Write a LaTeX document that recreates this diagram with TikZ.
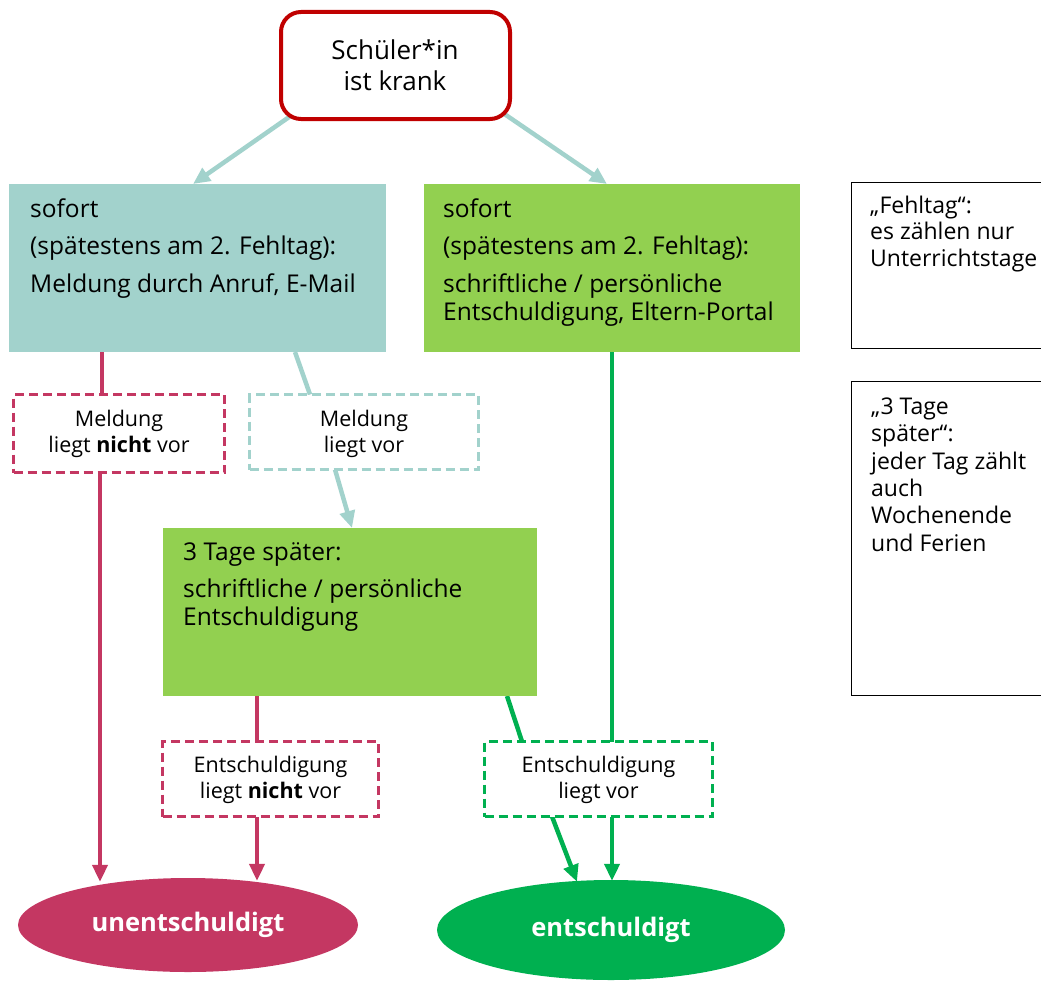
\documentclass[tikz,border=0pt]{standalone}
\usepackage{fontspec}
\setmainfont{Open Sans}
\usetikzlibrary{arrows.meta,shapes.geometric}
\definecolor{tealc}{HTML}{A2D2CC}
\definecolor{lgreen}{HTML}{92D050}
\definecolor{dgreen}{HTML}{00B050}
\definecolor{crim}{HTML}{C43762}
\definecolor{dred}{HTML}{C00000}
\pgfdeclarelayer{bg}
\pgfsetlayers{bg,main}
\newcommand\mystrut[1]{\rule{0pt}{#1}}
\begin{document}
\begin{tikzpicture}[x=1pt,y=-1pt,
  box/.style={rectangle,inner sep=0,outer sep=0},
  dbox/.style={rectangle,draw,line width=3pt,dash pattern=on 9pt off 5pt,fill=white,inner sep=0,outer sep=0},
  nbox/.style={rectangle,draw=black,line width=1pt,inner sep=0,outer sep=0},
  txt/.style={anchor=north west,inner sep=0,align=left},
  ctxt/.style={anchor=north,inner sep=0,align=center},
  mainfont/.style={font=\fontsize{24.5}{28}\selectfont},
  dfont/.style={font=\fontsize{21.5}{26}\selectfont},
  con/.style={line width=4.5pt},
  arr/.style={-{Triangle[length=17pt,width=15pt]}}
]
\useasboundingbox (0,0) rectangle (1041,982);

% boxes
\node[draw=dred,fill=white,line width=4pt,rounded corners=20pt,minimum width=229pt,minimum height=107pt,inner sep=0,outer sep=0] (T) at (395.5,65.5) {};
\node[box,fill=tealc,minimum width=377pt,minimum height=168pt] (L) at (197.5,268) {};
\node[box,fill=lgreen,minimum width=376pt,minimum height=168pt] (M) at (612,268) {};
\node[box,fill=lgreen,minimum width=374pt,minimum height=168pt] (G) at (350,612) {};
\node[nbox,minimum width=192pt,minimum height=166pt] (R1) at (947,265) {};
\node[nbox,minimum width=192pt,minimum height=314pt] (R2) at (947,538) {};
\node[dbox,draw=crim,minimum width=211pt,minimum height=78pt] (D1) at (119,433.5) {};
\node[dbox,draw=tealc,minimum width=229pt,minimum height=75pt] (D2) at (364,432) {};
\node[dbox,draw=crim,minimum width=216pt,minimum height=75pt] (D3) at (270.5,779) {};
\node[dbox,draw=dgreen,minimum width=228pt,minimum height=75pt] (D4) at (598.5,779) {};
\node[ellipse,fill=crim,minimum width=340pt,minimum height=94pt,inner sep=0,text=white,font=\fontsize{25.5}{30}\selectfont\bfseries] (U) at (188,925) {unentschuldigt};
\node[ellipse,fill=dgreen,minimum width=348pt,minimum height=100pt,inner sep=0,text=white,font=\fontsize{25.5}{30}\selectfont\bfseries] (E) at (611,930) {entschuldigt};

% texts
\node[ctxt,font=\fontsize{26}{31.5}\selectfont] (Tt) at (395,38) {\mystrut{21pt}Schüler*in\\ist krank};
\node[txt,mainfont] (Lt) at (30,196) {\mystrut{21pt}sofort\\[9.5pt](spätestens am 2. Fehltag):\\[9.5pt]Meldung durch Anruf, E-Mail};
\node[txt,mainfont] (Mt) at (443,196) {\mystrut{21pt}sofort\\[9.5pt](spätestens am 2. Fehltag):\\[9.5pt]schriftliche / persönliche\\Entschuldigung, Eltern-Portal};
\node[txt,mainfont] (Gt) at (183,539) {\mystrut{21pt}3 Tage später:\\[9.5pt]schriftliche / persönliche\\Entschuldigung};
\node[txt,font=\fontsize{23}{26.5}\selectfont] (R1t) at (870,193) {\mystrut{20pt}„Fehltag“:\\es zählen nur\\Unterrichtstage};
\node[txt,font=\fontsize{23}{27.4}\selectfont] (R2t) at (871,394) {\mystrut{20pt}„3 Tage\\später“:\\jeder Tag zählt\\auch\\Wochenende\\und Ferien};
\node[ctxt,dfont] (D1t) at (119,408) {\mystrut{18pt}Meldung\\liegt \textbf{nicht} vor};
\node[ctxt,dfont] (D2t) at (364,408) {\mystrut{18pt}Meldung\\liegt vor};
\node[ctxt,dfont] (D3t) at (270.5,754) {\mystrut{18pt}Entschuldigung\\liegt \textbf{nicht} vor};
\node[ctxt,dfont] (D4t) at (598.5,754) {\mystrut{18pt}Entschuldigung\\liegt vor};

% connectors
\begin{pgfonlayer}{bg}
\draw[con,tealc,arr] ([xshift=11pt,yshift=4pt]T.south west) -- ([xshift=-4.5pt]L.north);
\draw[con,tealc,arr] ([xshift=-10pt,yshift=8pt]T.south east) -- ([xshift=-5pt]M.north);
\draw[con,crim] ([xshift=-95.5pt]L.south) -- ([xshift=-17pt]D1.north);
\draw[con,crim,arr] ([xshift=-19pt]D1.south) -- ([xshift=-88pt,yshift=-4pt]U.north);
\draw[con,tealc] ([xshift=97.5pt]L.south) -- ([xshift=-54pt]D2.north);
\draw[con,tealc,arr] ([xshift=-29pt]D2.south) -- ([xshift=2pt]G.north);
\draw[con,crim] ([xshift=-93pt]G.south) -- ([xshift=-13.5pt]D3.north);
\draw[con,crim,arr] ([xshift=-13.5pt]D3.south) -- ([xshift=69pt,yshift=-3pt]U.north);
\draw[con,dgreen] ([xshift=157pt]G.south) -- ([xshift=-76.5pt]D4.north);
\draw[con,dgreen,arr] ([xshift=-46.5pt]D4.south) -- ([xshift=-34pt,yshift=-2pt]E.north);
\draw[con,dgreen] (M.south) -- ([xshift=13.5pt]D4.north);
\draw[con,dgreen,arr] ([xshift=13.5pt]D4.south) -- ([xshift=1pt,yshift=-1pt]E.north);
\end{pgfonlayer}
\end{tikzpicture}
\end{document}
